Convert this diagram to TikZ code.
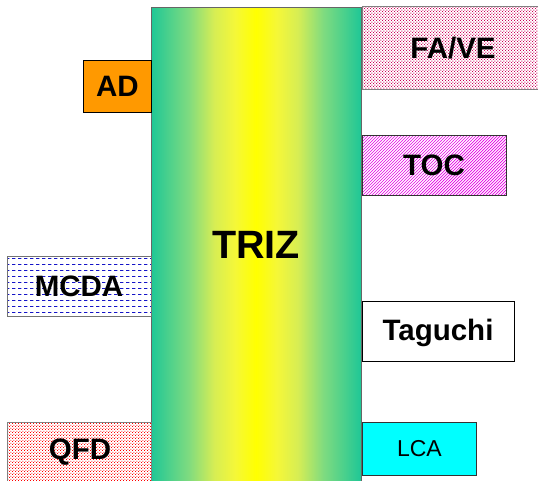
\documentclass[tikz,border=0pt]{standalone}
\usepackage{fontspec}
\setmainfont{Liberation Sans}
\usetikzlibrary{patterns}
\definecolor{dotpink}{RGB}{204,0,90}
\definecolor{hatchmag}{RGB}{230,0,230}
\definecolor{dashblue}{RGB}{20,20,200}
\definecolor{adorange}{RGB}{255,153,0}
\definecolor{lcacyan}{RGB}{0,255,255}
\pgfdeclarehorizontalshading{trizshade}{100bp}{%
  rgb(0bp)=(0.12,0.78,0.59);
  rgb(25bp)=(0.12,0.78,0.59);
  rgb(34bp)=(0.50,0.86,0.50);
  rgb(40bp)=(0.84,0.93,0.33);
  rgb(45bp)=(0.96,0.97,0.22);
  rgb(50bp)=(1,1,0);
  rgb(55bp)=(0.96,0.97,0.22);
  rgb(60bp)=(0.84,0.93,0.33);
  rgb(66bp)=(0.50,0.86,0.50);
  rgb(75bp)=(0.12,0.78,0.59);
  rgb(100bp)=(0.12,0.78,0.59)}
\pgfdeclarepatternformonly{hdash}{\pgfqpoint{0pt}{0pt}}{\pgfqpoint{6pt}{6pt}}{\pgfqpoint{6pt}{6pt}}{%
  \pgfpathrectangle{\pgfqpoint{0pt}{0pt}}{\pgfqpoint{4pt}{1pt}}\pgfusepath{fill}}
\pgfdeclarepatternformonly{bigdots}{\pgfqpoint{0pt}{0pt}}{\pgfqpoint{3.2pt}{3.2pt}}{\pgfqpoint{3.2pt}{3.2pt}}{%
  \pgfpathrectangle{\pgfqpoint{0pt}{0pt}}{\pgfqpoint{1.2pt}{1.2pt}}%
  \pgfpathrectangle{\pgfqpoint{1.6pt}{1.6pt}}{\pgfqpoint{1.2pt}{1.2pt}}\pgfusepath{fill}}
\pgfdeclarepatternformonly{diaghatch}{\pgfqpoint{-1pt}{-1pt}}{\pgfqpoint{4pt}{4pt}}{\pgfqpoint{3pt}{3pt}}{%
  \pgfsetlinewidth{0.7pt}%
  \pgfpathmoveto{\pgfqpoint{0pt}{0pt}}\pgfpathlineto{\pgfqpoint{3.1pt}{3.1pt}}\pgfusepath{stroke}}
\tikzset{
  box/.style={anchor=north west, inner sep=0pt, font=\fontsize{29.5}{31}\selectfont\bfseries, line width=0.8pt},
  lbl/.style={font=\fontsize{29.5}{31}\selectfont\bfseries},
}
\begin{document}
\begin{tikzpicture}[x=1pt,y=-1pt]
\useasboundingbox (0,0) rectangle (538,480);
\clip (0,0) rectangle (538,480);
% TRIZ bar
\shade[shading=trizshade] (151,7) rectangle (361,490);
\draw[black!60, line width=0.8pt] (151,490) -- (151,7) -- (361,7) -- (361,490);
\node[font=\fontsize{39.5}{41}\selectfont\bfseries] (triz) at (256,245) {TRIZ};
% boxes
\node[box, draw=black!50, preaction={fill=white}, pattern=bigdots, pattern color=dotpink,
  minimum width=190pt, minimum height=83pt] (fave) at (362,6) {};
\node[lbl] (favet) at (453,48) {FA/VE};
\node[box, draw=black, fill=adorange, minimum width=68pt, minimum height=52pt] (ad) at (83,60) {AD};
\node[box, draw=black!80, preaction={fill=white}, pattern=diaghatch, pattern color=hatchmag,
  minimum width=144pt, minimum height=60pt] (toc) at (362,135) {};
\node[lbl] (toct) at (434,165) {TOC};
\node[box, draw=black!55, preaction={fill=white}, pattern=hdash, pattern color=dashblue,
  minimum width=144pt, minimum height=60pt] (mcda) at (7,256) {};
\node[lbl] (mcdat) at (79,286) {MCDA};
\node[box, draw=black, fill=white, minimum width=152pt, minimum height=60pt] (taguchi) at (362,301) {};
\node[lbl] (taguchit) at (438,333) {Taguchi};
\node[box, draw=black!50, preaction={fill=white}, pattern=bigdots, pattern color=red,
  minimum width=144pt, minimum height=70pt] (qfd) at (7,422) {};
\node[lbl] (qfdt) at (80,452) {QFD};
\node[box, draw=black!80, fill=lcacyan, font=\fontsize{23}{25}\selectfont, minimum width=114pt, minimum height=53pt] (lca) at (362,422) {LCA};
\end{tikzpicture}
\end{document}
